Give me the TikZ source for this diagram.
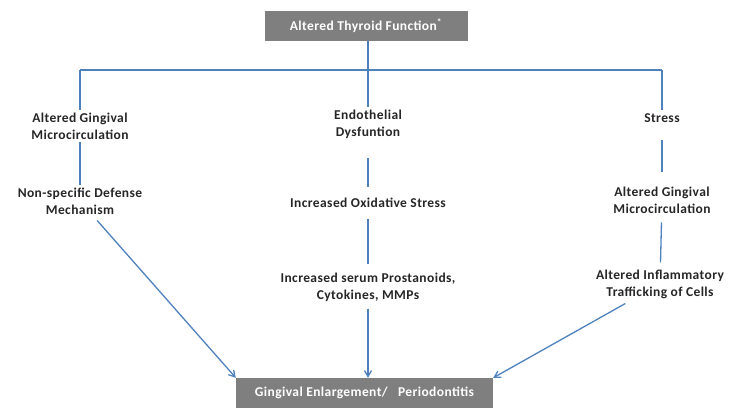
\documentclass[tikz,border=0pt]{standalone}
\usepackage{fontspec}
\setmainfont{Carlito}[LetterSpace=3]
\usetikzlibrary{arrows.meta,positioning}

\definecolor{lineblue}{HTML}{4F81BD}
\definecolor{boxgray}{HTML}{7F7F7F}

\begin{document}
\begin{tikzpicture}[x=1pt, y=-1pt,
    lbl/.style={align=center, inner xsep=2pt, inner ysep=3pt, font=\fontsize{13.5}{17}\selectfont\bfseries, text=black!85},
    graybox/.style={fill=boxgray, text=white, inner sep=0pt, font=\fontsize{13.5}{15}\selectfont\bfseries},
    conn/.style={draw=lineblue, line width=1.3pt},
    arr/.style={conn, -{Straight Barb[length=6pt, width=7pt]}}
  ]
    \useasboundingbox (0,0) rectangle (735,407);

    \node[graybox, minimum width=203pt, minimum height=30pt] (top) at (366,26) {Altered Thyroid Function\textsuperscript{*}};
    \node[graybox, minimum width=257pt, minimum height=30pt] (bottom) at (364.5,393) {Gingival Enlargement/\ \ \ Periodontitis};

    % left branch
    \node[lbl] (gingL) at (80,126) {Altered Gingival\\Microcirculation};
    \node[lbl] (defense) at (80,201) {Non-specific Defense\\Mechanism};

    % middle branch
    \node[lbl] (endo) at (368,124.5) {Endothelial\\Dysfuntion};
    \node[lbl] (oxid) at (368,203) {Increased Oxidative Stress};
    \node[lbl] (serum) at (368,287) {Increased serum Prostanoids,\\Cytokines, MMPs};

    % right branch
    \node[lbl] (stress) at (662,118) {Stress};
    \node[lbl] (gingR) at (662,200) {Altered Gingival\\Microcirculation};
    \node[lbl] (traffic) at (660,284) {Altered Inflammatory\\Trafficking of Cells};

    \coordinate (bus) at (368,70);
    \draw[conn] (bus |- top.south) -- (bus);
    \draw[conn] (gingL.north |- bus) -- (stress.north |- bus);
    \draw[conn] (gingL.north |- bus) -- (gingL.north);
    \draw[conn] (bus) -- (endo.north);
    \draw[conn] (stress.north |- bus) -- (stress.north);

    \draw[conn] (gingL) -- (defense);
    \draw[conn, shorten <=16pt, shorten >=8pt] (endo) -- (oxid);
    \draw[conn, shorten <=8pt, shorten >=6pt] (oxid) -- (serum);
    \draw[conn, shorten <=14pt, shorten >=12pt] (stress) -- (gingR);
    \draw[conn, shorten <=6pt, shorten >=4pt] (gingR) -- (traffic);

    \draw[arr, shorten <=4pt] (defense) -- (bottom.north west);
    \draw[arr, shorten <=4pt] (serum) -- (bottom.north -| serum);
    \draw[arr, shorten <=4pt] (traffic) -- (bottom.north east);
  \end{tikzpicture}
\end{document}
